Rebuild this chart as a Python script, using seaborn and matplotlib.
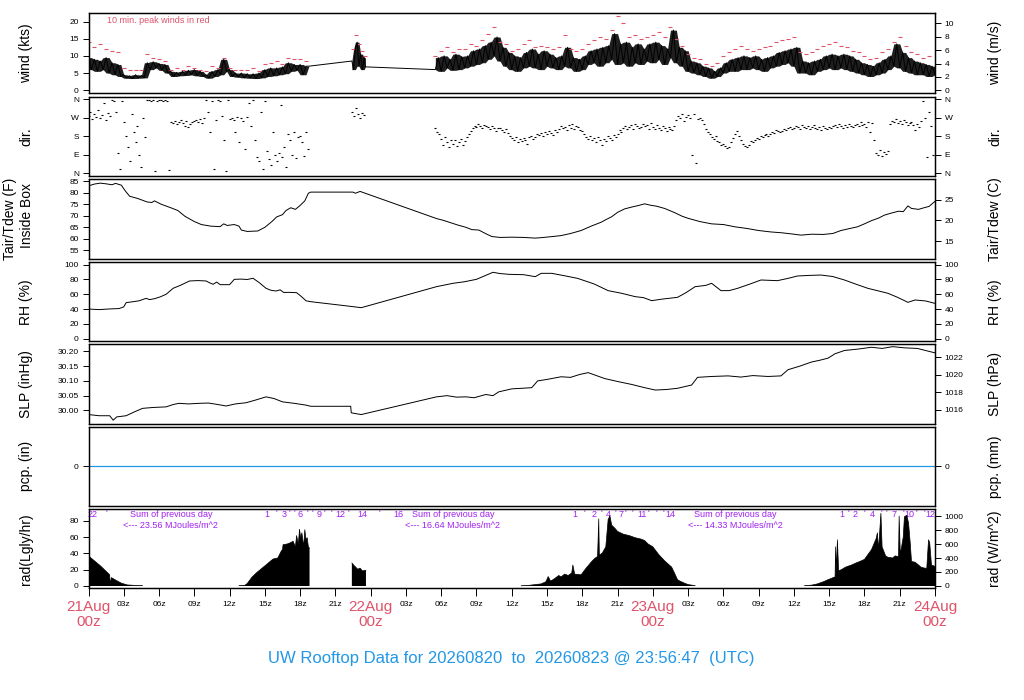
import matplotlib
matplotlib.use("Agg")
import matplotlib.pyplot as plt
import matplotlib.transforms as mtransforms
import numpy as np
import seaborn as sns

# all times are hours after 21Aug 00z

# wind speed (kts), 15 min steps
wind1_start = 0.0
wind1 = [9.5, 6.0, 9.0, 5.5, 8.5, 6.0, 9.5, 5.0, 8.0, 4.5, 7.5, 4.0,
         4.5, 3.5, 4.2, 3.4, 4.5, 3.5, 4.3, 3.6, 8.0, 6.0, 8.3, 6.5,
         7.8, 5.8, 7.5, 5.0, 5.5, 4.0, 5.2, 4.2, 5.5, 4.3, 5.8, 4.5,
         6.0, 4.2, 5.5, 4.0, 4.5, 3.5, 5.5, 4.0, 6.0, 4.5, 9.0, 5.5,
         6.0, 4.0, 5.0, 3.8, 5.0, 3.6, 4.8, 3.5, 4.8, 3.4, 5.0, 3.6,
         6.0, 4.0, 6.5, 4.2, 6.5, 4.5, 6.8, 4.8, 8.0, 5.5, 7.5, 5.8,
         7.5, 4.5, 7.0, 7.0]
wind2_t = [22.4, 22.55, 22.7, 22.85, 23.0, 23.15, 23.3, 23.45, 23.55]
wind2 = [8.5, 6.0, 12.0, 14.0, 7.0, 10.5, 6.0, 9.5, 6.8]
wind3_start = 29.5
wind3 = [6.0, 9.5,
         5.5, 10.0, 6.5, 9.0, 5.8, 10.5, 6.0, 9.8, 6.5, 10.0, 7.0, 11.5,
         7.5, 12.0, 8.0, 13.0, 9.0, 14.0, 10.0, 15.5, 8.5, 12.5, 7.0, 11.0,
         6.0, 10.0, 5.5, 9.5, 6.5, 11.0, 7.0, 12.0, 6.5, 10.5, 6.0, 11.5,
         7.0, 10.5, 6.5, 9.5, 6.0, 10.0, 7.0, 12.5, 6.5, 9.5, 5.5, 9.0,
         6.0, 10.0, 7.5, 11.5, 8.0, 12.0, 7.0, 12.5, 8.0, 13.0, 9.0, 16.5,
         7.5, 13.5, 8.0, 14.0, 7.0, 12.5, 8.0, 13.5, 7.5, 12.0, 8.5, 13.5,
         8.0, 14.0, 9.0, 13.0, 7.5, 12.0, 9.5, 17.5, 8.0, 12.5, 7.0, 11.5,
         5.5, 8.5, 5.0, 8.0, 4.5, 7.0, 4.0, 6.5, 3.5, 5.5, 4.0, 6.5,
         5.0, 8.0, 5.5, 9.0, 5.5, 9.5, 6.0, 10.0, 6.0, 9.5, 6.5, 10.0,
         6.0, 9.0, 5.5, 9.5, 6.5, 10.0, 7.0, 11.0, 7.5, 11.5, 8.0, 12.0,
         7.0, 12.5, 5.0, 8.5, 5.0, 8.0, 4.5, 8.5, 5.5, 9.0, 6.0, 10.0,
         6.5, 10.5, 6.0, 10.0, 6.5, 10.5, 6.0, 10.0, 5.5, 9.0, 5.0, 8.0,
         4.5, 7.5, 4.0, 7.0, 4.5, 8.0, 5.0, 9.0, 6.0, 10.0, 7.0, 13.5,
         6.5, 11.0, 5.5, 9.5, 5.0, 8.5, 4.5, 8.0, 4.5, 7.5, 4.0, 7.0,
         4.5]

# 10 min peak winds (kts), 30 min steps
peak1_start = 0.0
peak1 = [14.0, 12.5, 13.5, 12.0, 11.5, 11.0, 6.5, 6.0, 5.8, 6.0,
         10.5, 9.5, 9.0, 8.5, 6.0, 6.5, 6.0, 7.0, 6.5, 6.0,
         5.5, 7.0, 6.5, 9.5, 6.5, 6.0, 5.8, 6.0, 6.5, 5.5,
         7.5, 8.0, 8.5, 7.5, 9.5, 9.0, 9.0, 8.5]
peak2_t = [22.5, 22.75, 23.0, 23.25, 23.5]
peak2 = [12.0, 16.2, 13.5, 11.5, 10.0]
peak3_start = 29.5
peak3 = [10.0,
         11.5, 12.5, 11.0, 12.0, 12.0, 13.5, 13.0, 14.5, 16.5, 18.5,
         14.0, 13.5, 11.5, 12.0, 13.5, 14.5, 12.5, 13.0, 12.5, 12.0,
         12.5, 16.0, 12.0, 11.5, 12.0, 13.5, 14.5, 15.5, 15.0, 17.5,
         21.5, 19.5, 15.5, 16.0, 15.0, 15.5, 16.0, 17.0, 15.5, 18.5,
         15.0, 13.0, 10.5, 9.5, 9.0, 7.5, 7.0, 8.0, 10.0, 11.0,
         12.0, 13.0, 12.0, 11.5, 12.0, 12.5, 13.0, 14.0, 14.5, 15.0,
         15.5, 11.0, 10.5, 11.0, 12.0, 13.0, 13.5, 14.0, 13.0, 12.5,
         11.5, 11.0, 10.0, 9.0, 9.5, 11.0, 12.0, 14.0, 15.5, 13.0,
         11.0, 10.5, 9.5, 10.0]

# wind direction (deg), 10 min steps
dir1_start = 0.0
dir1 = [280, 300, 265, 290, 275, 310, 270, 285, 340, 260, 295, 280,
        355, 350, 300, 100, 20, 350, 250, 180, 130, 60, 290, 200,
        150, 230, 90, 30, 270, 175, 355, 358, 352, 356, 10, 354,
        357, 355, 353, 358, 350, 15, 250, 245, 255, 240, 250, 260,
        245, 230, 255, 225, 240, 250, 255, 260, 250, 265, 245, 270,
        355, 300, 200, 350, 20, 260, 357, 354, 280, 160, 10, 355,
        265, 270, 260, 200, 275, 150, 268, 255, 120, 275, 340, 230,
        355, 160, 80, 60, 300, 20, 350, 110, 70, 40, 200, 90,
        60, 100, 330, 80, 130, 30, 190, 160, 90, 200, 75, 175,
        180, 150, 85, 200, 120]
dir2_start = 22.4
dir2 = [300, 280, 320, 290, 270, 295, 285]
dir3_start = 29.5
dir3 = [220, 200, 190,
        165, 140, 175, 150, 130, 160, 145, 160, 135, 150, 165, 140,
        155, 175, 190, 205, 220, 230, 225, 240, 230, 220, 235, 228,
        225, 215, 230, 220, 205, 218, 220, 210, 200, 215, 195, 180,
        170, 160, 175, 150, 165, 155, 170, 160, 145, 175, 180, 165,
        175, 190, 185, 195, 180, 200, 190, 205, 195, 185, 210, 200,
        215, 230, 220, 225, 210, 235, 220, 240, 215, 230, 225, 210,
        205, 190, 175, 165, 180, 160, 170, 150, 175, 160, 140, 165,
        155, 180, 170, 160, 185, 175, 190, 210, 200, 220, 230, 215,
        225, 235, 215, 240, 230, 220, 225, 240, 230, 235, 215, 245,
        225, 215, 235, 220, 210, 230, 220, 205, 225, 215, 210, 230,
        260, 280, 270, 290, 255, 275, 285, 270, 90, 290, 50, 265,
        270, 260, 240, 215, 200, 190, 175, 165, 180, 155, 150, 140,
        145, 135, 125, 130, 150, 170, 190, 205, 180, 160, 145, 135,
        130, 140, 155, 150, 160, 170, 165, 180, 175, 185, 190, 180,
        190, 200, 195, 210, 205, 200, 205, 215, 210, 220, 225, 215,
        220, 230, 225, 215, 235, 225, 220, 230, 215, 225, 235, 220,
        215, 225, 210, 230, 220, 215, 225, 220, 230, 235, 225, 240,
        230, 220, 235, 225, 240, 230, 225, 235, 240, 230, 250, 235,
        240, 225, 250, 200, 245, 160, 100, 90, 115, 85, 105, 95,
        110, 240, 255, 250, 265, 245, 255, 240, 260, 250, 235, 245,
        250, 235, 210, 240, 225, 255, 350, 270, 80, 300, 230, 90]

# air temperature inside box (F)
temp_t = [0, 0.5, 1, 1.5, 2, 2.3, 2.8, 3.1, 3.5, 4.2,
          5.0, 5.4, 5.6, 6.2, 7.0, 7.6, 8.2, 9.0, 9.6, 10.4,
          11.2, 11.5, 11.8, 12.4, 12.8, 13.0, 13.5, 14.4, 15.0, 15.6,
          16.0, 16.5, 16.8, 17.2, 17.6, 18.0, 18.4, 18.7, 18.9, 22.5,
          22.7, 23.1, 29.6, 30.2, 30.8, 31.4, 32.1, 32.6, 33.2, 33.8,
          34.3, 35.0, 36.0, 37.0, 38.0, 38.5, 39.5, 40.2, 41.0, 41.9,
          42.8, 43.6, 44.0, 44.5, 45.0, 45.6, 46.2, 46.8, 47.3, 47.8,
          48.3, 49.0, 49.8, 50.5, 51.0, 52.0, 53.0, 54.0, 55.0, 56.0,
          57.0, 58.0, 59.0, 60.0, 60.6, 61.5, 62.5, 63.3, 64.0, 64.6,
          65.4, 66.0, 66.6, 67.2, 67.7, 68.3, 68.9, 69.3, 69.7, 70.0,
          70.6, 71.0, 71.5, 72.0]
temp_f = [83.0, 83.8, 84.2, 83.9, 83.5, 84.1, 83.3, 81.0, 78.5, 77.5,
          76.0, 75.8, 76.5, 75.0, 73.5, 72.3, 69.8, 67.5, 66.2, 65.5,
          65.3, 66.5, 65.8, 66.2, 65.5, 63.8, 63.2, 63.4, 65.0, 67.5,
          69.5, 70.5, 72.3, 73.5, 72.8, 74.5, 76.5, 79.8, 80.3, 80.3,
          79.8, 80.6, 68.8, 68.0, 67.0, 66.0, 65.0, 64.0, 63.8, 62.2,
          61.0, 60.6, 60.7, 60.6, 60.3, 60.5, 61.0, 61.4, 62.3, 63.6,
          65.6, 67.2, 68.3, 69.6, 71.5, 73.0, 73.8, 74.5, 75.2, 74.6,
          74.2, 73.2, 71.5, 69.8, 68.9, 67.5, 66.5, 66.2, 65.2, 64.5,
          63.6, 63.0, 62.6, 62.0, 61.6, 62.0, 61.9, 62.3, 63.6, 64.3,
          65.2, 66.5, 67.9, 69.0, 70.3, 71.2, 72.0, 71.8, 74.3, 73.2,
          72.8, 73.4, 74.1, 76.3]

# relative humidity (%)
rh_t = [0, 0.9, 1.8, 2.6, 3.0, 3.2, 3.8, 4.3, 4.9, 5.2,
        5.6, 6.1, 6.6, 7.2, 7.8, 8.6, 9.3, 10.0, 10.3, 10.6,
        10.9, 11.2, 12.0, 12.2, 12.4, 13.0, 13.5, 14.0, 14.5, 15.1,
        15.5, 15.95, 16.3, 16.6, 17.1, 17.7, 18.1, 18.5, 18.9, 22.4,
        23.2, 29.6, 31.0, 32.0, 33.0, 34.4, 35.0, 35.8, 37.0, 38.0,
        38.5, 39.4, 40.5, 41.6, 43.0, 44.2, 45.3, 46.5, 47.2, 47.9,
        48.8, 50.1, 50.8, 51.6, 52.5, 53.0, 53.8, 54.5, 55.2, 56.2,
        57.2, 58.6, 59.5, 60.3, 61.3, 62.3, 63.3, 64.3, 65.3, 66.3,
        67.2, 68.0, 68.8, 69.7, 70.3, 71.2, 72.0]
rh = [40.1, 39.3, 40.2, 40.7, 43.0, 48.7, 50.0, 51.2, 54.5, 52.8,
      54.0, 56.5, 60.0, 68.1, 72.0, 78.0, 78.5, 78.0, 75.5, 73.5,
      76.5, 73.0, 73.0, 76.5, 80.2, 80.5, 80.0, 81.6, 76.0, 68.1,
      65.5, 64.4, 66.0, 62.5, 62.6, 62.2, 57.0, 51.2, 50.0, 43.5,
      41.9, 70.3, 74.8, 77.0, 80.2, 89.7, 88.0, 86.9, 86.5, 83.8,
      88.3, 88.3, 85.0, 81.5, 74.0, 64.9, 61.5, 56.8, 55.5, 51.4,
      53.5, 55.9, 62.0, 70.3, 72.0, 74.8, 64.9, 65.0, 68.0, 73.5,
      79.3, 78.4, 81.5, 84.7, 85.5, 86.0, 84.0, 79.3, 73.5, 68.0,
      64.5, 61.3, 56.0, 49.1, 52.3, 51.0, 47.7]

# sea level pressure (inHg)
slp_t = [0, 0.9, 1.8, 2.1, 2.4, 3.2, 3.9, 4.6, 5.5, 6.6,
         7.2, 7.7, 8.5, 9.4, 10.2, 11.0, 11.7, 12.5, 13.4, 14.2,
         15.1, 15.8, 16.5, 17.5, 18.5, 18.9, 22.3, 22.35, 22.6, 23.2,
         29.6, 30.5, 31.3, 32.1, 32.8, 33.8, 34.4, 34.9, 36.0, 37.7,
         38.2, 39.0, 40.2, 41.0, 41.8, 42.5, 43.2, 43.9, 45.0, 46.2,
         47.2, 48.2, 49.2, 50.1, 51.3, 51.8, 53.0, 54.4, 55.5, 56.5,
         57.8, 58.9, 59.5, 60.5, 61.5, 62.2, 62.9, 63.5, 64.3, 65.5,
         66.6, 67.5, 68.4, 69.4, 70.5, 71.3, 72.0]
slp = [29.986, 29.982, 29.982, 29.967, 29.978, 29.982, 29.995, 30.007, 30.010, 30.012,
       30.020, 30.024, 30.022, 30.024, 30.025, 30.020, 30.015, 30.022, 30.026, 30.035,
       30.046, 30.040, 30.029, 30.024, 30.018, 30.014, 30.014, 29.992, 29.990, 29.986,
       30.046, 30.050, 30.045, 30.046, 30.043, 30.054, 30.050, 30.063, 30.073, 30.077,
       30.100, 30.105, 30.114, 30.112, 30.122, 30.128, 30.118, 30.108, 30.098, 30.088,
       30.078, 30.069, 30.071, 30.075, 30.086, 30.112, 30.115, 30.117, 30.113, 30.118,
       30.115, 30.117, 30.138, 30.150, 30.164, 30.170, 30.177, 30.192, 30.203, 30.208,
       30.214, 30.210, 30.216, 30.212, 30.210, 30.202, 30.195]

# precipitation (in)
pcp_t = [0, 72]
pcp = [0, 0]

# solar radiation (W/m^2), one list per stretch of data
rad1a_t = [0.0, 0.5, 1.0, 1.5, 1.8, 1.85, 1.95, 2.3, 2.8, 3.3, 4.0, 4.6]
rad1a = [430, 360, 290, 210, 160, 25, 120, 85, 40, 15, 8, 5]
rad1b_t = [12.8, 13.3, 13.5, 13.9, 14.3, 14.8, 15.1, 15.5, 15.7, 16.1,
           16.4, 16.5, 16.55, 16.9, 17.2, 17.4, 17.6, 17.7, 17.85, 17.95,
           18.05, 18.15, 18.3, 18.4, 18.5, 18.6, 18.7, 18.8]
rad1b = [5, 10, 35, 125, 190, 260, 300, 360, 385, 400,
         500, 520, 590, 600, 620, 640, 560, 720, 600, 810,
         680, 760, 560, 805, 660, 690, 560, 540]
rad1c_t = [22.4, 22.6, 22.9, 23.1, 23.3, 23.6]
rad1c = [330, 290, 240, 255, 215, 225]
rad2_t = [36.8, 37.5, 38.0, 38.5, 38.9, 39.1, 39.3, 39.6, 40.0, 40.2,
          40.5, 40.8, 41.1, 41.2, 41.35, 41.9, 42.3, 42.8, 43.1, 43.3,
          43.4, 43.45, 43.7, 44.0, 44.2, 44.35, 44.5, 44.8, 45.0, 45.5,
          46.0, 46.5, 47.0, 47.3, 47.6, 48.0, 48.5, 49.0, 49.6, 49.8,
          50.1, 50.3, 50.7, 51.0, 51.6]
rad2 = [3, 10, 20, 30, 60, 135, 70, 100, 150, 130,
        170, 150, 185, 300, 170, 160, 250, 350, 400, 420,
        960, 440, 470, 560, 950, 1000, 870, 820, 780, 740,
        720, 690, 670, 650, 600, 560, 450, 360, 270, 200,
        90, 70, 40, 20, 5]
rad3_t = [60.9, 61.5, 62.0, 62.5, 62.9, 63.2, 63.5, 63.55, 63.6, 63.7,
          63.8, 64.0, 64.4, 64.9, 65.3, 65.6, 66.0, 66.3, 66.6, 66.8,
          67.0, 67.1, 67.2, 67.4, 67.5, 67.8, 68.0, 68.4, 68.6, 68.9,
          68.95, 69.05, 69.3, 69.4, 69.6, 69.75, 69.9, 70.0, 70.3, 70.6,
          70.8, 71.0, 71.3, 71.45, 71.55, 71.7, 72.0]
rad3 = [5, 12, 30, 60, 90, 110, 130, 560, 200, 660,
        220, 230, 270, 300, 330, 350, 380, 450, 520, 600,
        680, 760, 520, 1040, 560, 430, 410, 400, 430, 420,
        1000, 450, 700, 990, 1010, 900, 600, 350, 340, 300,
        270, 260, 250, 660, 620, 300, 280]

# purple annotations along the top of the radiation panel
rad_hour_t = [0.35, 15.2, 16.6, 18.0, 19.6, 21.4, 23.3, 26.4, 41.4, 43.0,
              44.2, 45.3, 47.1, 49.5, 64.1, 65.2, 66.7, 68.5, 69.8, 71.6]
rad_hour_lab = ["22", "1", "3", "6", "9", "12", "14", "16", "1", "2",
                "4", "7", "11", "14", "1", "2", "4", "7", "10", "12"]
rad_mark_t = [1.5, 16.0, 17.1, 17.5, 18.6, 19.0, 20.1, 20.7, 22.1, 24.7,
              42.2, 43.6, 44.8, 45.7, 46.3, 47.6, 48.3, 48.9,
              64.6, 66.0, 67.4, 67.9, 69.3, 70.4, 71.1]
sum_t = [7.0, 31.0, 55.0]
sum_mj = ["23.56", "16.64", "14.33"]

# x axis
hour_ticks = list(range(0, 73, 3))
hour_labels = ["", "03z", "06z", "09z", "12z", "15z", "18z", "21z",
               "", "03z", "06z", "09z", "12z", "15z", "18z", "21z",
               "", "03z", "06z", "09z", "12z", "15z", "18z", "21z", ""]
day_ticks = [0, 24, 48, 72]
day_labels = ["21Aug\n00z", "22Aug\n00z", "23Aug\n00z", "24Aug\n00z"]

title = "UW Rooftop Data for 20260820  to  20260823 @ 23:56:47  (UTC)"

KT_PER_MS = 1.94384
HPA_PER_INHG = 33.8639
WM2_PER_LY = 11.622
RED = "#DF536B"
BLUE = "#2297E6"
PURPLE = "#A020F0"


def grid(start, step, n):
    return start + step * np.arange(n)


def gapped(pairs):
    # join stretches of data with NaN so nothing is drawn between them
    ts, vs = [], []
    for t, v in pairs:
        ts += list(t) + [t[-1] + 0.01]
        vs += list(v) + [np.nan]
    return np.array(ts), np.array(vs, dtype=float)


def band(ax, t, v):
    # shade the range the wind trace sweeps around each sample
    v = np.asarray(v, dtype=float)
    p = np.pad(v, 1, mode="edge")
    lo = np.minimum(np.minimum(p[:-2], p[1:-1]), p[2:])
    hi = np.maximum(np.maximum(p[:-2], p[1:-1]), p[2:])
    ax.fill_between(t, lo, hi, color="0.12", linewidth=0)


wind_segs = [(grid(wind1_start, 0.25, len(wind1)), wind1),
             (np.array(wind2_t), wind2),
             (grid(wind3_start, 0.25, len(wind3)), wind3)]
wind_t = np.concatenate([s[0] for s in wind_segs])
wind_v = np.concatenate([s[1] for s in wind_segs])
peak_t = np.concatenate([grid(peak1_start, 0.5, len(peak1)), peak2_t,
                         grid(peak3_start, 0.5, len(peak3))])
peak_v = np.concatenate([peak1, peak2, peak3])
dir_t = np.concatenate([grid(dir1_start, 1 / 6, len(dir1)),
                        grid(dir2_start, 1 / 6, len(dir2)),
                        grid(dir3_start, 1 / 6, len(dir3))])
dir_v = np.concatenate([dir1, dir2, dir3])
rad_t, rad_v = gapped([(rad1a_t, rad1a), (rad1b_t, rad1b), (rad1c_t, rad1c),
                       (rad2_t, rad2), (rad3_t, rad3)])

sns.set_style("ticks", {"axes.edgecolor": "black", "xtick.color": "black",
                        "ytick.color": "black", "text.color": "black",
                        "axes.labelcolor": "black"})
plt.rcParams["font.family"] = ["Liberation Sans", "DejaVu Sans"]

W, H = 1024.0, 700.0
X0, X1 = 88.5, 935.0
fig = plt.figure(figsize=(W / 100, H / 100), dpi=100)


def panel(top, bot, left_lab, right_lab):
    ax = fig.add_axes([X0 / W, 1 - bot / H, (X1 - X0) / W, (bot - top) / H])
    rx = ax.twinx()
    for a in (ax, rx):
        for s in a.spines.values():
            s.set_color("black")
            s.set_linewidth(0.9)
        a.tick_params(axis="y", labelsize=6, length=4, width=0.7, pad=3)
    yc = 1 - (top + bot) / 2 / H
    if left_lab:
        fig.text(26 / W, yc, left_lab, rotation=90, ha="center", va="center", fontsize=10)
    fig.text(995 / W, yc, right_lab, rotation=90, ha="center", va="center", fontsize=10)
    return ax, rx


def finish(ax):
    ax.set_xlim(0, 72)
    ax.set_xticks([])
    ax.set_xlabel("")
    ax.set_ylabel("")


line_kw = dict(color="black", linewidth=0.7, estimator=None, sort=False)

# wind
ax, rx = panel(13.3, 93.3, "wind (kts)", "wind (m/s)")
for t, v in wind_segs:
    band(ax, t, v)
sns.lineplot(x=wind_t, y=wind_v, ax=ax, **line_kw)
sns.scatterplot(x=peak_t, y=peak_v, ax=ax, color=RED, marker="_", s=8, linewidth=0.8)
finish(ax)
ax.set_ylim(-0.9, 22.4)
ax.set_yticks([0, 5, 10, 15, 20])
rx.set_ylim(-0.9 / KT_PER_MS, 22.4 / KT_PER_MS)
rx.set_yticks(range(0, 11, 2))
ax.text(1.6, 0.915, "10 min. peak winds in red", color=RED, fontsize=6.5, va="center",
        transform=mtransforms.blended_transform_factory(ax.transData, ax.transAxes))

# direction
ax, rx = panel(96.7, 176, "dir.", "dir.")
sns.scatterplot(x=dir_t, y=dir_v, ax=ax, color="black", marker="_", s=4, linewidth=0.8)
finish(ax)
for a in (ax, rx):
    a.set_ylim(-13, 372.6)
    a.set_yticks([0, 90, 180, 270, 360])
    a.set_yticklabels(["N", "E", "S", "W", "N"])

# temperature
ax, rx = panel(179, 258.7, None, "Tair/Tdew (C)")
fig.text(10 / W, 1 - 219 / H, "Tair/Tdew (F)", rotation=90, ha="center", va="center", fontsize=10)
fig.text(27 / W, 1 - 216 / H, "Inside Box", rotation=90, ha="center", va="center", fontsize=10)
sns.lineplot(x=temp_t, y=temp_f, ax=ax, **line_kw)
finish(ax)
ax.set_ylim(51.35, 86.0)
ax.set_yticks(range(55, 86, 5))
rx.set_ylim((51.35 - 32) / 1.8, (86.0 - 32) / 1.8)
rx.set_yticks([15, 20, 25])

# humidity
ax, rx = panel(262.3, 341.3, "RH (%)", "RH (%)")
sns.lineplot(x=rh_t, y=rh, ax=ax, **line_kw)
finish(ax)
for a in (ax, rx):
    a.set_ylim(-3.5, 103.2)
    a.set_yticks(range(0, 101, 20))

# pressure
ax, rx = panel(344.3, 423.7, "SLP (inHg)", "SLP (hPa)")
sns.lineplot(x=slp_t, y=slp, ax=ax, **line_kw)
finish(ax)
ax.set_ylim(29.955, 30.224)
ax.set_yticks([30.00, 30.05, 30.10, 30.15, 30.20])
ax.set_yticklabels(["30.00", "30.05", "30.10", "30.15", "30.20"])
rx.set_ylim(29.955 * HPA_PER_INHG, 30.224 * HPA_PER_INHG)
rx.set_yticks([1016, 1018, 1020, 1022])

# precipitation
ax, rx = panel(426.7, 506, "pcp. (in)", "pcp. (mm)")
sns.lineplot(x=pcp_t, y=pcp, ax=ax, color=BLUE, linewidth=0.9, estimator=None)
finish(ax)
for a in (ax, rx):
    a.set_ylim(-1, 1)
    a.set_yticks([0])

# radiation
ax, rx = panel(509.3, 588.3, "rad(Lgly/hr)", "rad (W/m^2)")
rx.fill_between(rad_t, 0, rad_v, color="black", linewidth=0)
rx.plot(rad_t, rad_v, color="black", linewidth=0.5)
finish(ax)
rx.set_ylim(-33, 1096)
rx.set_yticks(range(0, 1001, 200))
ax.set_ylim(-33 / WM2_PER_LY, 1096 / WM2_PER_LY)
ax.set_yticks(range(0, 81, 20))
ax.set_xticks(hour_ticks)
ax.set_xticklabels(hour_labels)
ax.tick_params(axis="x", labelsize=6, length=6, width=0.7, pad=3)

top = mtransforms.blended_transform_factory(ax.transData, ax.transAxes)
for t, lab in zip(rad_hour_t, rad_hour_lab):
    ax.text(t, 0.93, lab, transform=top, color=PURPLE, fontsize=6.5, ha="center", va="center")
for t in rad_mark_t:
    ax.text(t, 0.95, "'", transform=top, color=PURPLE, fontsize=6.5, ha="center", va="center")
for t, mj in zip(sum_t, sum_mj):
    ax.text(t, 0.928, "Sum of previous day", transform=top, color=PURPLE,
            fontsize=6.5, ha="center", va="center")
    ax.text(t, 0.792, "<--- " + mj + " MJoules/m^2", transform=top, color=PURPLE,
            fontsize=6.5, ha="center", va="center")

bottom = mtransforms.blended_transform_factory(ax.transData, fig.transFigure)
for t, lab in zip(day_ticks, day_labels):
    ax.text(t, 1 - 600 / H, lab, transform=bottom, color=RED, fontsize=11,
            ha="center", va="top", linespacing=1.05, clip_on=False)

fig.text(511.5 / W, 1 - 659 / H, title, color=BLUE, fontsize=12, ha="center", va="center")

fig.savefig("out.png", dpi=100)
